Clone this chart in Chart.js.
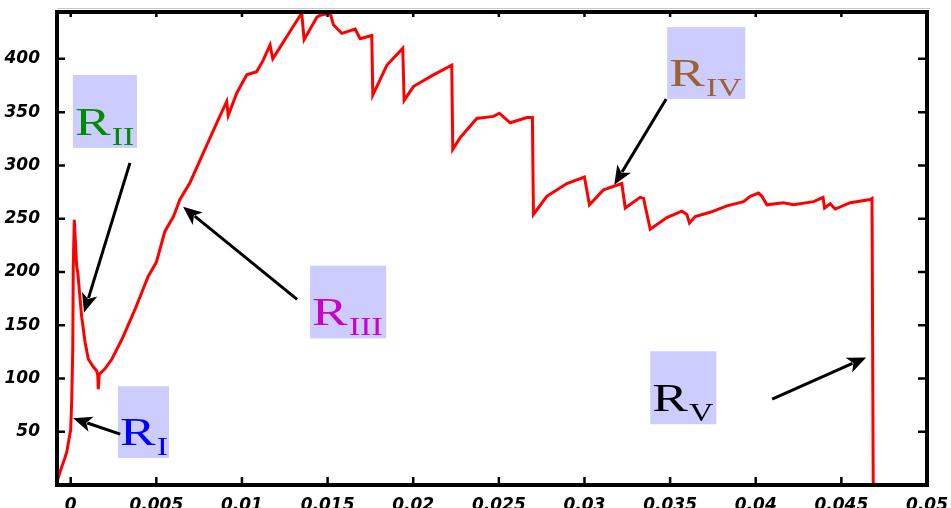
<html>
<head>
<meta charset="utf-8">
<title>stress strain regions</title>
<script src="https://cdn.jsdelivr.net/npm/chart.js@4.4.0/dist/chart.umd.min.js"></script>
<style>
	body { margin: 0; background: #fff; }
</style>
</head>
<body>

<canvas id="canvas" width="951" height="508"></canvas>

<script>
	// curve
	var strain = [-0.0008, -0.00063, -0.00035, -0.00023, -0.0001, 0.0, 0.00006, 0.00012, 0.00015, 0.00021,
		0.00035, 0.00041, 0.00064, 0.00084, 0.00103, 0.00132, 0.00152, 0.00158, 0.00161, 0.00167,
		0.0020, 0.0024, 0.0030, 0.00376, 0.00453, 0.0050, 0.0055, 0.0060, 0.00638, 0.00697,
		0.00775, 0.00853, 0.00911, 0.0092, 0.0097, 0.01028, 0.01086, 0.01125, 0.01164, 0.0118,
		0.01223, 0.01262, 0.01349, 0.01363, 0.01437, 0.01456, 0.01515, 0.01534, 0.01583, 0.01661,
		0.0169, 0.01758, 0.01764, 0.01846, 0.01939, 0.01947, 0.02001, 0.02118, 0.02225, 0.02231,
		0.02274, 0.02371, 0.02468, 0.02503, 0.02566, 0.02664, 0.02696, 0.02702, 0.0278, 0.02897,
		0.0300, 0.03029, 0.03111, 0.03218, 0.03238, 0.03325, 0.03345, 0.03384, 0.03481, 0.03569,
		0.03598, 0.03613, 0.03647, 0.03734, 0.03832, 0.03929, 0.03968, 0.04016, 0.04036, 0.04065,
		0.04162, 0.04221, 0.04338, 0.04393, 0.04402, 0.04435, 0.04464, 0.04552, 0.04669, 0.04679,
		0.04686, 0.04700];
	var stress = [3, 12, 25, 31, 43, 52, 80, 127, 205, 249,
		205, 200, 158, 134, 118, 111, 107, 103, 90, 104,
		109, 118, 137, 165, 196, 209, 238, 252, 268, 284,
		312, 340, 360, 347, 368, 385, 388, 399, 413, 400,
		411, 421, 443, 418, 439, 441, 443, 432, 424, 428,
		419, 422, 366, 394, 410, 361, 374, 385, 394, 315,
		326, 344, 346, 349, 340, 345, 345, 254, 271, 283,
		289, 263, 277, 283, 260, 270, 269, 240, 251, 257,
		254, 246, 252, 256, 262, 266, 271, 274, 271, 263,
		265, 263, 266, 270, 260, 264, 259, 265, 268, 269,
		1, 1];

	var xTicks = [0, 0.005, 0.01, 0.015, 0.02, 0.025, 0.03, 0.035, 0.04, 0.045, 0.05];
	var xLabels = ['0', '0.005', '0.01', '0.015', '0.02', '0.025', '0.03', '0.035', '0.04', '0.045', '0.05'];
	var yTicks = [50, 100, 150, 200, 250, 300, 350, 400];
	var yLabels = ['50', '100', '150', '200', '250', '300', '350', '400'];

	var regionNames = ['I', 'II', 'III', 'IV', 'V'];

	// annotation layout, in axis units
	var notes = [
		{ box: [0.00276, 92.7, 0.00574, 25.3], from: [0.00289, 47.8], to: [0.00014, 62.7], color: '#0000ff' },
		{ box: [0.00013, 384.8, 0.00387, 316.5], from: [0.00346, 302.4], to: [0.00078, 162], color: '#008c00' },
		{ box: [0.01398, 205.9, 0.01842, 137.6], from: [0.01322, 174.2], to: [0.00656, 261.2], color: '#cc00cc' },
		{ box: [0.03483, 429.8, 0.03939, 362.3], from: [0.03477, 362.3], to: [0.03174, 281.8], color: '#9a6432' },
		{ box: [0.03384, 125.5, 0.03770, 57.1], from: [0.04096, 80.5], to: [0.04645, 119.8], color: '#000000' }
	];

	var points = [];
	for (var i in strain) {
		points.push({ x: strain[i], y: stress[i] });
	}

	function drawArrow(ctx, x1, y1, x2, y2) {
		var a = Math.atan2(y2 - y1, x2 - x1);
		var len = 19, w = 8;
		var bx = x2 - len * Math.cos(a), by = y2 - len * Math.sin(a);
		ctx.beginPath();
		ctx.moveTo(x1, y1);
		ctx.lineTo(bx + 4 * Math.cos(a), by + 4 * Math.sin(a));
		ctx.stroke();
		ctx.beginPath();
		ctx.moveTo(x2, y2);
		ctx.lineTo(bx + w * Math.sin(a), by - w * Math.cos(a));
		ctx.lineTo(bx + 5 * Math.cos(a), by + 5 * Math.sin(a));
		ctx.lineTo(bx - w * Math.sin(a), by + w * Math.cos(a));
		ctx.closePath();
		ctx.fill();
	}

	var extras = {
		id: 'extras',
		afterDatasetsDraw: function (chart) {
			var ctx = chart.ctx, xs = chart.scales.x, ys = chart.scales.y;
			ctx.save();
			for (var i in notes) {
				var n = notes[i];
				var l = xs.getPixelForValue(n.box[0]), t = ys.getPixelForValue(n.box[1]);
				var r = xs.getPixelForValue(n.box[2]), b = ys.getPixelForValue(n.box[3]);
				ctx.fillStyle = '#ccccff';
				ctx.fillRect(l, t, r - l, b - t);

				ctx.fillStyle = n.color;
				ctx.textBaseline = 'alphabetic';
				ctx.textAlign = 'left';
				ctx.save();
				ctx.translate(l + 2, b - 13);
				ctx.scale(1.3, 1);
				ctx.font = '41px "Liberation Serif"';
				ctx.fillText('R', 0, 0);
				var rw = ctx.measureText('R').width;
				ctx.font = '26px "Liberation Serif"';
				ctx.fillText(regionNames[i], rw + 1, 10);
				ctx.restore();

				ctx.strokeStyle = '#000';
				ctx.fillStyle = '#000';
				ctx.lineWidth = 3;
				drawArrow(ctx,
					xs.getPixelForValue(n.from[0]), ys.getPixelForValue(n.from[1]),
					xs.getPixelForValue(n.to[0]), ys.getPixelForValue(n.to[1]));
			}
			ctx.restore();
		},
		afterDraw: function (chart) {
			var ctx = chart.ctx, a = chart.chartArea, xs = chart.scales.x, ys = chart.scales.y;
			ctx.save();
			ctx.strokeStyle = '#c8c8c8';
			ctx.lineWidth = 1;
			ctx.beginPath();
			ctx.moveTo(a.left, a.top - 3.5);
			ctx.lineTo(a.right + 3, a.top - 3.5);
			ctx.stroke();

			ctx.strokeStyle = '#000';
			ctx.lineWidth = 2.5;
			ctx.beginPath();
			for (var i in xTicks) {
				var px = xs.getPixelForValue(xTicks[i]);
				ctx.moveTo(px, a.bottom); ctx.lineTo(px, a.bottom - 8);
				ctx.moveTo(px, a.top); ctx.lineTo(px, a.top + 5);
			}
			for (var j in yTicks) {
				var py = ys.getPixelForValue(yTicks[j]);
				ctx.moveTo(a.left, py); ctx.lineTo(a.left + 8, py);
				ctx.moveTo(a.right, py); ctx.lineTo(a.right - 9, py);
			}
			ctx.stroke();

			ctx.lineWidth = 4;
			ctx.strokeRect(a.left, a.top, a.right - a.left, a.bottom - a.top);
			ctx.restore();
		}
	};

	var tickFont = { family: 'DejaVu Sans', size: 17, weight: 'bold', style: 'italic' };

	var char1 = document.getElementById('canvas');
	var curve = new Chart(char1, {
		type: 'scatter',
		data: {
			datasets: [{
				data: points,
				showLine: true,
				borderColor: '#ff0000',
				backgroundColor: '#ff0000',
				borderWidth: 3,
				pointRadius: 0,
				tension: 0
			}]
		},
		options: {
			responsive: false,
			animation: false,
			layout: { padding: { top: 12, right: 24, left: 0, bottom: 0 } },
			plugins: {
				legend: { display: false },
				tooltip: { enabled: false }
			},
			scales: {
				x: {
					type: 'linear',
					min: -0.0008,
					max: 0.05,
					grid: { display: false },
					border: { display: false },
					afterBuildTicks: function (scale) {
						scale.ticks = xTicks.map(function (v) { return { value: v }; });
					},
					afterFit: function (scale) {
						scale.height = 23;
						scale.paddingLeft = 0;
						scale.paddingRight = 0;
					},
					ticks: {
						color: '#000',
						font: tickFont,
						padding: 2,
						maxRotation: 0,
						autoSkip: false,
						callback: function (v, idx) { return xLabels[idx]; }
					}
				},
				y: {
					min: 0,
					max: 444,
					grid: { display: false },
					border: { display: false },
					afterBuildTicks: function (scale) {
						scale.ticks = yTicks.map(function (v) { return { value: v }; });
					},
					afterFit: function (scale) {
						scale.width = 57;
						scale.paddingTop = 0;
						scale.paddingBottom = 0;
					},
					ticks: {
						color: '#000',
						font: tickFont,
						padding: 9,
						autoSkip: false,
						callback: function (v, idx) { return yLabels[idx]; }
					}
				}
			}
		},
		plugins: [extras]
	});
</script>

</body>
</html>
